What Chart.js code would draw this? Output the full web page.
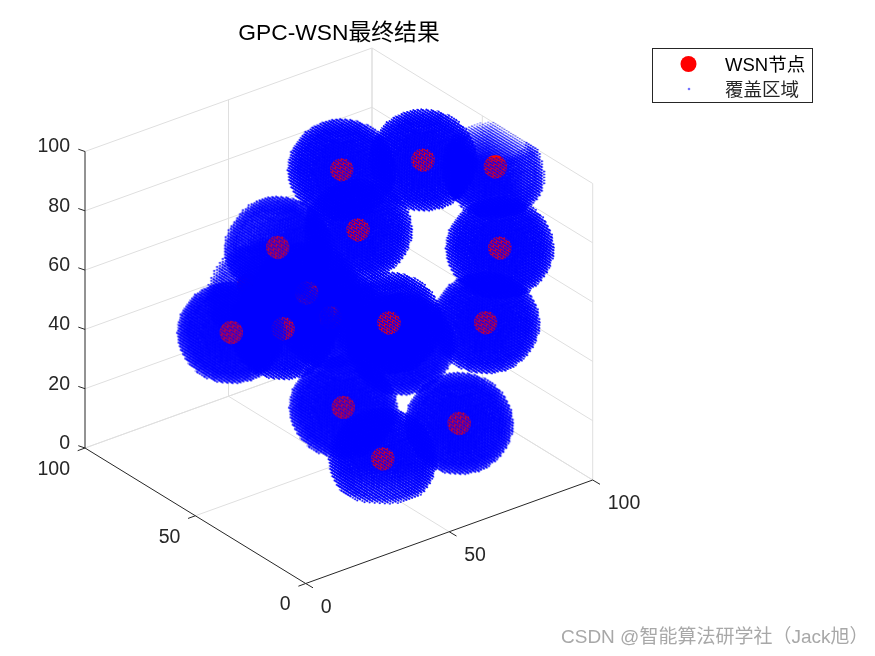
<!DOCTYPE html>
<html><head><meta charset="utf-8">
<script src="https://cdn.jsdelivr.net/npm/chart.js@4"></script>
<style>html,body{margin:0;padding:0;background:#fff}canvas{display:block}</style>
</head><body><canvas id="c" width="875" height="656"></canvas>
<script>
const titleText='GPC-WSN最终结果';
const nodeLabel='WSN节点';
const coverLabel='覆盖区域';
const watermark='CSDN @智能算法研学社（Jack旭）';
const xTicks=[0,50,100];
const yTicks=[0,50,100];
const zTicks=[0,20,40,60,80,100];
const nodeX=[71,87,93,69,83,61,57,68,74,31,49,69,85,50,75,53,83];
const nodeY=[76,60,35,66,20,92,100,88,85,74,74,52,29,48,28,34,65];
const nodeZ=[80,85,92,65,75,50,35,34,25,40,35,40,45,20,15,8,22];
const buriedNodes=[6,16]; // markers fully hidden inside neighbouring coverage
const coverRadius=15;

// view of the 3D box on the page
const O=[305.7,583.5],VX=[2.87,-1.035],VY=[-2.207,-1.355],VZ=[0,-2.965];
const NV=[-6.54,-8.51,6.17];
const P=(x,y,z)=>({x:O[0]+VX[0]*x+VY[0]*y+VZ[0]*z,y:O[1]+VX[1]*x+VY[1]*y+VZ[1]*z});
const depth=(x,y,z)=>NV[0]*x+NV[1]*y+NV[2]*z;
const GAP={x:NaN,y:NaN};
function seg(list,a,b){list.push(P(...a),P(...b),GAP);}
const gridPts=[],axisPts=[];
zTicks.forEach(z=>{seg(gridPts,[0,100,z],[100,100,z]);seg(gridPts,[100,100,z],[100,0,z]);});
xTicks.forEach(x=>{if(x>0){seg(gridPts,[x,100,0],[x,100,100]);seg(gridPts,[x,0,0],[x,100,0]);}});
yTicks.forEach(y=>{if(y>0){seg(gridPts,[100,y,0],[100,y,100]);seg(gridPts,[0,y,0],[100,y,0]);}});
seg(gridPts,[100,0,0],[100,0,100]);
seg(axisPts,[0,100,0],[0,100,100]);
seg(axisPts,[0,0,0],[0,100,0]);
seg(axisPts,[0,0,0],[100,0,0]);
const off=(p,dx,dy)=>({x:p.x+dx,y:p.y+dy});
zTicks.forEach(z=>{const p=P(0,100,z);axisPts.push(p,off(p,-6.7,-2.3),GAP);});
xTicks.forEach(x=>{const p=P(x,0,0);axisPts.push(p,off(p,7.3,4.3),GAP);});
yTicks.forEach(y=>{const p=P(0,y,0);axisPts.push(p,off(p,-7.3,2.7),GAP);});

const nodes=nodeX.map((x,i)=>P(x,nodeY[i],nodeZ[i]));

// stippled sprite of one node's coverage ball: dense under-layer or thin front layer
function sprite(i,front){
  const S=130,c=document.createElement('canvas');c.width=c.height=S;
  const g=c.getContext('2d');g.fillStyle=front?'rgba(0,0,255,0.9)':'rgba(0,0,255,0.85)';
  const R=coverRadius;
  for(let a=-R;a<=R;a++)for(let b=-R;b<=R;b++)for(let d=-R;d<=R;d++){
    const r=Math.sqrt(a*a+b*b+d*d);
    if(r>R)continue;
    const X=nodeX[i]+a,Y=nodeY[i]+b,Z=nodeZ[i]+d;
    if(X<0||X>100||Y<0||Y>100||Z<0||Z>100)continue;
    if(front&&!(depth(a,b,d)>0&&r>R-3.6))continue;
    const px=S/2+VX[0]*a+VY[0]*b,py=S/2+VX[1]*a+VY[1]*b+VZ[1]*d;
    g.beginPath();g.arc(px,py,front?0.95:0.7,0,7);g.fill();
  }
  return c;
}

const FONT="'Liberation Sans','Noto Sans CJK SC',sans-serif";
const textPlugin={id:'labels',afterDraw(ch){
  const g=ch.ctx;g.save();
  const T=(s,x,y,al,size,col)=>{g.font=size+'px '+FONT;g.textAlign=al;g.textBaseline='middle';g.fillStyle=col;g.fillText(s,x,y);};
  T(titleText,339,34,'center',22.8,'#000');
  zTicks.forEach(z=>{const p=P(0,100,z);T(String(z),p.x-15,p.y-4.5,'right',19.5,'#262626');});
  xTicks.forEach(x=>{const p=P(x,0,0);T(String(x),p.x+15,p.y+24,'left',19.5,'#262626');});
  yTicks.forEach(y=>{const p=P(0,y,0);T(String(y),p.x-15,p.y+21.5,'right',19.5,'#262626');});
  g.fillStyle='#fff';g.strokeStyle='#262626';g.lineWidth=1;
  g.fillRect(652.5,48.5,160,54);g.strokeRect(652.5,48.5,160,54);
  g.fillStyle='#f00';g.beginPath();g.arc(688.5,64,8,0,7);g.fill();
  g.fillStyle='rgba(0,0,255,0.55)';g.beginPath();g.arc(689,89,1.3,0,7);g.fill();
  T(nodeLabel,725,66,'left',18.5,'#000');
  T(coverLabel,725,91,'left',18.5,'#262626');
  T(watermark,561,638,'left',19,'#a8a8a8');
  g.restore();
}};

// painter's order: all under-layers first, then far-to-near marker + front layer
const byDepth=nodes.map((_,i)=>i).sort((a,b)=>depth(nodeX[b],nodeY[b],nodeZ[b])-depth(nodeX[a],nodeY[a],nodeZ[a]));
const markDatasets=[];
byDepth.forEach((i,rank)=>{
  const pt=[nodes[i]],base=2*rank;
  markDatasets.push(
    {label:coverLabel,data:pt,order:base,pointStyle:sprite(i,true),pointRadius:1,borderWidth:0},
    {label:nodeLabel,data:pt,order:buriedNodes.includes(i)?900:base+1,backgroundColor:'#f00',borderWidth:0,pointRadius:11.7},
    {label:coverLabel,data:pt,order:500+rank,pointStyle:sprite(i,false),pointRadius:1,borderWidth:0});
});

new Chart(document.getElementById('c'),{
  type:'scatter',
  data:{datasets:[
    ...markDatasets,
    {label:'axes',data:axisPts,order:1000,showLine:true,spanGaps:false,pointRadius:0,borderColor:'#262626',borderWidth:1},
    {label:'grid',data:gridPts,order:1001,showLine:true,spanGaps:false,pointRadius:0,borderColor:'#dfdfdf',borderWidth:1}
  ]},
  options:{responsive:false,animation:false,clip:false,layout:{padding:0,autoPadding:false},
    plugins:{legend:{display:false},title:{display:false},tooltip:{enabled:false}},
    scales:{x:{type:'linear',display:false,min:0,max:875},y:{type:'linear',display:false,min:0,max:656,reverse:true}}},
  plugins:[textPlugin]
});
</script></body></html>
